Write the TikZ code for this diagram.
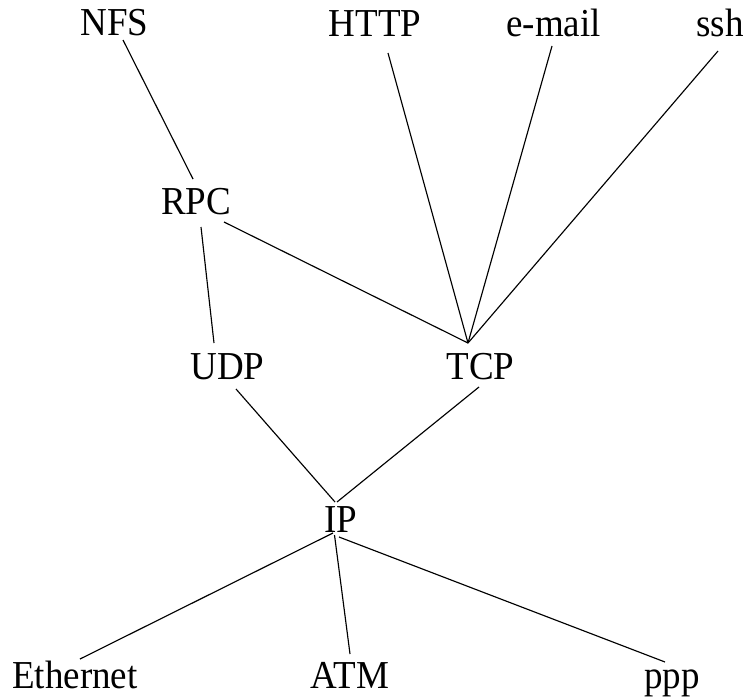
\documentclass[tikz,border=0pt]{standalone}
\usepackage{graphicx}
\usepackage{fontspec}
\setmainfont{Liberation Serif}
\newcommand{\tallish}[1]{\scalebox{1}[1.07]{#1}}
\begin{document}
\begin{tikzpicture}[x=1pt,y=-1pt,
  lbl/.style={anchor=base,inner sep=0pt,font=\fontsize{37}{40}\selectfont},
  edge/.style={line width=1.15pt,black}]
\useasboundingbox (0,0) rectangle (749,699);
% nodes (anchored at baseline)
\node[lbl] (nfs)   at (114.5,35) {\tallish{NFS}};
\node[lbl] (http)  at (375,36)   {\tallish{HTTP}};
\node[lbl] (email) at (553.5,36) {\tallish{e-mail}};
\node[lbl] (ssh)   at (720,36)   {\tallish{ssh}};
\node[lbl] (rpc)   at (196,214)  {\tallish{RPC}};
\node[lbl] (udp)   at (227.5,379) {\tallish{UDP}};
\node[lbl] (tcp)   at (480.5,379) {\tallish{TCP}};
\node[lbl] (ip)    at (340.5,532) {\tallish{IP}};
\node[lbl] (eth)   at (75,688)   {\tallish{Ethernet}};
\node[lbl] (atm)   at (350,688)  {\tallish{ATM}};
\node[lbl] (ppp)   at (672,688)  {\tallish{ppp}};
% connectors
\draw[edge] ([shift={(8.5,5)}]nfs.base) -- ([shift={(-3,-35)}]rpc.base);
\draw[edge] ([shift={(13,17)}]http.base) -- ([shift={(-12.5,-36)}]tcp.base);
\draw[edge] ([shift={(-1.5,10)}]email.base) -- ([shift={(-12.5,-36)}]tcp.base);
\draw[edge] ([shift={(-2,15)}]ssh.base) -- ([shift={(-12.5,-36)}]tcp.base);
\draw[edge] ([shift={(28,8)}]rpc.base) -- ([shift={(-12.5,-36)}]tcp.base);
\draw[edge] ([shift={(5,13)}]rpc.base) -- ([shift={(-13.5,-36)}]udp.base);
\draw[edge] ([shift={(8.5,10)}]udp.base) -- ([shift={(-5.5,-30)}]ip.base);
\draw[edge] ([shift={(-1.5,8)}]tcp.base) -- ([shift={(-3.5,-30)}]ip.base);
\draw[edge] ([shift={(-7.5,1)}]ip.base) -- ([shift={(5,-29)}]eth.base);
\draw[edge] ([shift={(-6,3)}]ip.base) -- ([shift={(0,-34)}]atm.base);
\draw[edge] ([shift={(-1.5,5)}]ip.base) -- ([shift={(-7,-26)}]ppp.base);
\end{tikzpicture}
\end{document}
